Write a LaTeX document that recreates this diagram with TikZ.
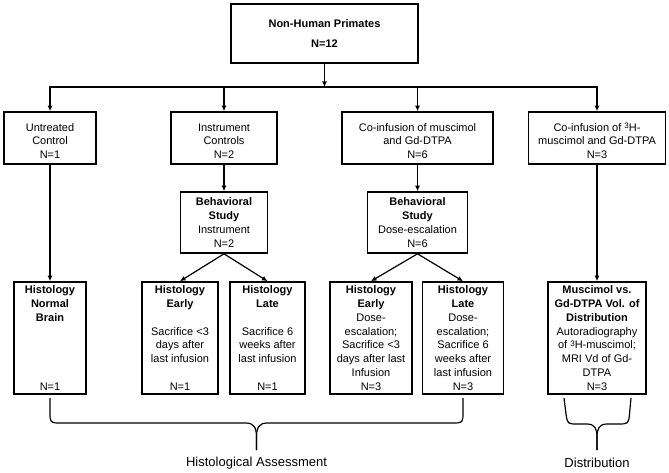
\documentclass[tikz,border=0pt]{standalone}
\usepackage{fontspec}
\setmainfont{Liberation Sans}
\usetikzlibrary{arrows.meta,calc}
\newcommand{\upstrut}{\rule{0pt}{14pt}}
\begin{document}
\begin{tikzpicture}[x=1pt,y=-1pt,
  box/.style={draw,line width=1.6pt,inner sep=0pt,align=center,font=\fontsize{11}{13.8}\selectfont},
  arr/.style={line width=1.2pt,-{Latex[length=5.5pt,width=5pt]}},
  brace/.style={line width=1.2pt,line join=round},
  lab/.style={inner sep=0pt,font=\fontsize{13}{15}\selectfont}
]
\useasboundingbox (0,0) rectangle (669,473);

% top
\node[box,minimum width=187pt,minimum height=59pt] (top) at (324.5,33.5) {\textbf{Non-Human Primates}\\[7pt]\textbf{N=12}};

% row 2
\node[box,minimum width=92pt,minimum height=52pt] (unt) at (50,138) {\upstrut Untreated\\Control\\N=1};
\node[box,minimum width=106pt,minimum height=52pt] (ins) at (224,138) {\upstrut Instrument\\Controls\\N=2};
\node[box,minimum width=151pt,minimum height=52pt] (co) at (417.5,138) {\upstrut Co-infusion of muscimol\\and Gd-DTPA\\N=6};
\node[box,minimum width=137pt,minimum height=52pt] (co3) at (597,138) {\upstrut Co-infusion of {\fontsize{8}{8}\selectfont\raisebox{2.5pt}{3}}H-\\muscimol and Gd-DTPA\\N=3};

% behavioral
\node[box,minimum width=87pt,minimum height=61pt] (bi) at (224,222.5) {\textbf{Behavioral}\\\textbf{Study}\\Instrument\\N=2};
\node[box,minimum width=100pt,minimum height=61pt] (bd) at (417.5,222.5) {\textbf{Behavioral}\\\textbf{Study}\\Dose-escalation\\N=6};

% histology row
\node[box,minimum width=72pt,minimum height=112pt] (nb) at (50,338) {\textbf{Histology}\\\textbf{Normal}\\\textbf{Brain}\\\mbox{}\\\mbox{}\\\mbox{}\\\mbox{}\\N=1};
\node[box,minimum width=76pt,minimum height=112pt] (he) at (180,338) {\textbf{Histology}\\\textbf{Early}\\\mbox{}\\Sacrifice <3\\days after\\last infusion\\\mbox{}\\N=1};
\node[box,minimum width=75pt,minimum height=112pt] (hlt) at (267.5,338) {\textbf{Histology}\\\textbf{Late}\\\mbox{}\\Sacrifice 6\\weeks after\\last infusion\\\mbox{}\\N=1};
\node[box,minimum width=82pt,minimum height=112pt] (de) at (371,338) {\textbf{Histology}\\\textbf{Early}\\Dose-\\escalation;\\Sacrifice <3\\days after last\\Infusion\\N=3};
\node[box,minimum width=81pt,minimum height=112pt] (dl) at (463,338) {\textbf{Histology}\\\textbf{Late}\\Dose-\\escalation;\\Sacrifice 6\\weeks after\\last infusion\\N=3};
\node[box,minimum width=98pt,minimum height=112pt] (mus) at (597,338) {\textbf{Muscimol vs.}\\\textbf{Gd-DTPA Vol. of}\\\textbf{Distribution}\\Autoradiography\\of {\fontsize{8}{8}\selectfont\raisebox{2.5pt}{3}}H-muscimol;\\MRI Vd of Gd-\\DTPA\\N=3};

% connectors
\coordinate (hl) at (0,87);
\draw[arr] (top.south) -- (top.south |- hl);
\draw[arr] (top.south |- hl) -| (unt.north);
\draw[arr] (top.south |- hl) -| (co3.north);
\draw[arr] (ins.north |- hl) -- (ins.north);
\draw[arr] (co.north |- hl) -- (co.north);

\draw[arr] (unt.south) -- (nb.north);
\draw[arr] (ins.south) -- (bi.north);
\draw[arr] (co.south) -- (bd.north);
\draw[arr] (co3.south) -- (mus.north);
\draw[arr] (bi.south) -- (he.north);
\draw[arr] (bi.south) -- (hlt.north);
\draw[arr] (bd.south) -- (de.north);
\draw[arr] (bd.south) -- (dl.north);

% braces
\coordinate (b1) at (50,398);
\coordinate (b2) at (463,398);
\coordinate (bt) at (256.5,450);
\draw[brace] (b1) -- (50,412) .. controls (50,423) .. (61,423) -- (246,423)
  .. controls (254,423) and (256.5,428) .. (256.5,437) -- (bt);
\draw[brace] (bt) -- (256.5,437) .. controls (256.5,428) and (259,423) .. (267,423)
  -- (452,423) .. controls (463,423) .. (463,412) -- (b2);

\coordinate (b3) at (564,398);
\coordinate (b4) at (631,398);
\coordinate (bt2) at (597,450);
\draw[brace] (b3) -- (566,414) .. controls (567.5,424) .. (578,424) -- (587,424)
  .. controls (595,424) and (597,429) .. (597,437) -- (bt2);
\draw[brace] (bt2) -- (597,437) .. controls (597,429) and (599,424) .. (607,424)
  -- (617,424) .. controls (628.5,424) .. (629.5,414) -- (b4);

% labels
\node[lab] (lha) at (256.5,463) {Histological Assessment};
\node[lab] (ldi) at (597,463) {Distribution};
\end{tikzpicture}
\end{document}
